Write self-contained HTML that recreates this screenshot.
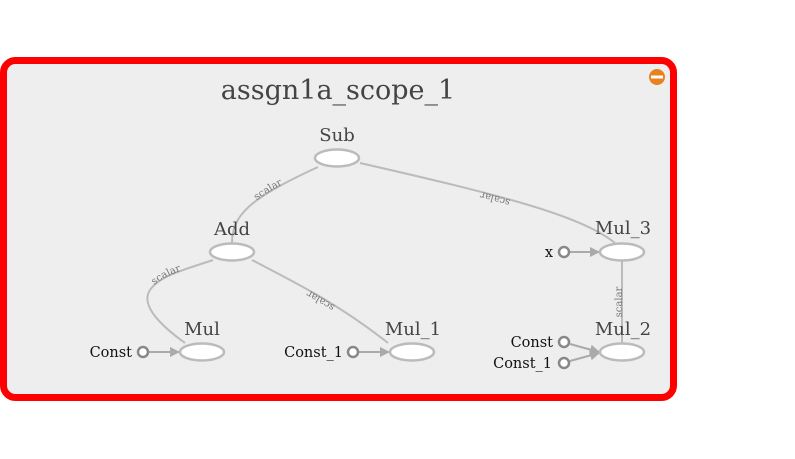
<!DOCTYPE html>
<html><head><meta charset="utf-8"><style>
html,body{margin:0;padding:0;background:#fff;}
svg{display:block;}
text{font-family:"DejaVu Serif","Liberation Serif",serif;}
</style></head><body>
<svg width="795" height="459" viewBox="0 0 795 459" xmlns="http://www.w3.org/2000/svg">
<defs>
<marker id="ar" viewBox="0 0 10 10" refX="9" refY="5" markerWidth="5" markerHeight="5" orient="auto"><path d="M0,0L10,5L0,10z" fill="#aaa"/></marker>
<path id="e1" d="M232,243 C232,215 250,198 318,167" fill="none"/>
<path id="e2" d="M615,243 C580,215 500,195 360,163" fill="none"/>
<path id="e3" d="M185,343 C160,325 140,305 150,290 C160,275 190,268 213,260" fill="none"/>
<path id="e4" d="M388,343 C340,305 300,285 252,260" fill="none"/>
<path id="e5" d="M622,344 L622,260" fill="none"/>
</defs>
<rect x="3.5" y="60.5" width="670" height="337" rx="12" fill="#eeeeee" stroke="#ff0000" stroke-width="7"/>
<text x="338" y="99" text-anchor="middle" font-size="27" fill="#444">assgn1a_scope_1</text>
<circle cx="657" cy="77" r="8" fill="#e8821e"/>
<rect x="651" y="75.5" width="12" height="3" fill="#fff"/>
<g stroke="#bbb" stroke-width="2" fill="none">
<use href="#e1"/><use href="#e2"/><use href="#e3"/><use href="#e4"/><use href="#e5"/>
</g>
<g font-size="10" fill="#777">
<text><textPath href="#e1" startOffset="55%" text-anchor="middle">scalar</textPath></text>
<text><textPath href="#e2" startOffset="48%" text-anchor="middle">scalar</textPath></text>
<text><textPath href="#e3" startOffset="65%" text-anchor="middle">scalar</textPath></text>
<text><textPath href="#e4" startOffset="50%" text-anchor="middle">scalar</textPath></text>
<text><textPath href="#e5" startOffset="50%" text-anchor="middle">scalar</textPath></text>
</g>
<g stroke="#aaa" stroke-width="2" fill="none" marker-end="url(#ar)">
<line x1="149" y1="352" x2="179" y2="352"/>
<line x1="359" y1="352" x2="389" y2="352"/>
<line x1="570" y1="252" x2="599" y2="252"/>
<line x1="570" y1="344" x2="599" y2="352"/>
<line x1="570" y1="361" x2="599" y2="353"/>
</g>
<g fill="#fff" stroke="#bbb" stroke-width="2.5">
<ellipse cx="337" cy="158" rx="22" ry="8.5"/>
<ellipse cx="232" cy="252" rx="22" ry="8.5"/>
<ellipse cx="202" cy="352" rx="22" ry="8.5"/>
<ellipse cx="412" cy="352" rx="22" ry="8.5"/>
<ellipse cx="622" cy="252" rx="22" ry="8.5"/>
<ellipse cx="622" cy="352" rx="22" ry="8.5"/>
</g>
<g fill="#fff" stroke="#888" stroke-width="2.5">
<circle cx="143" cy="352" r="5"/>
<circle cx="353" cy="352" r="5"/>
<circle cx="564" cy="252" r="5"/>
<circle cx="564" cy="342" r="5"/>
<circle cx="564" cy="363" r="5"/>
</g>
<g font-size="18" fill="#444" text-anchor="middle">
<text x="337" y="141">Sub</text>
<text x="232" y="235">Add</text>
<text x="202" y="335">Mul</text>
<text x="413" y="335">Mul_1</text>
<text x="623" y="234">Mul_3</text>
<text x="623" y="335">Mul_2</text>
</g>
<g font-size="14.5" fill="#111" text-anchor="end">
<text x="132" y="357">Const</text>
<text x="343" y="357">Const_1</text>
<text x="553" y="257">x</text>
<text x="553" y="347">Const</text>
<text x="552" y="368">Const_1</text>
</g>
</svg>
</body></html>
